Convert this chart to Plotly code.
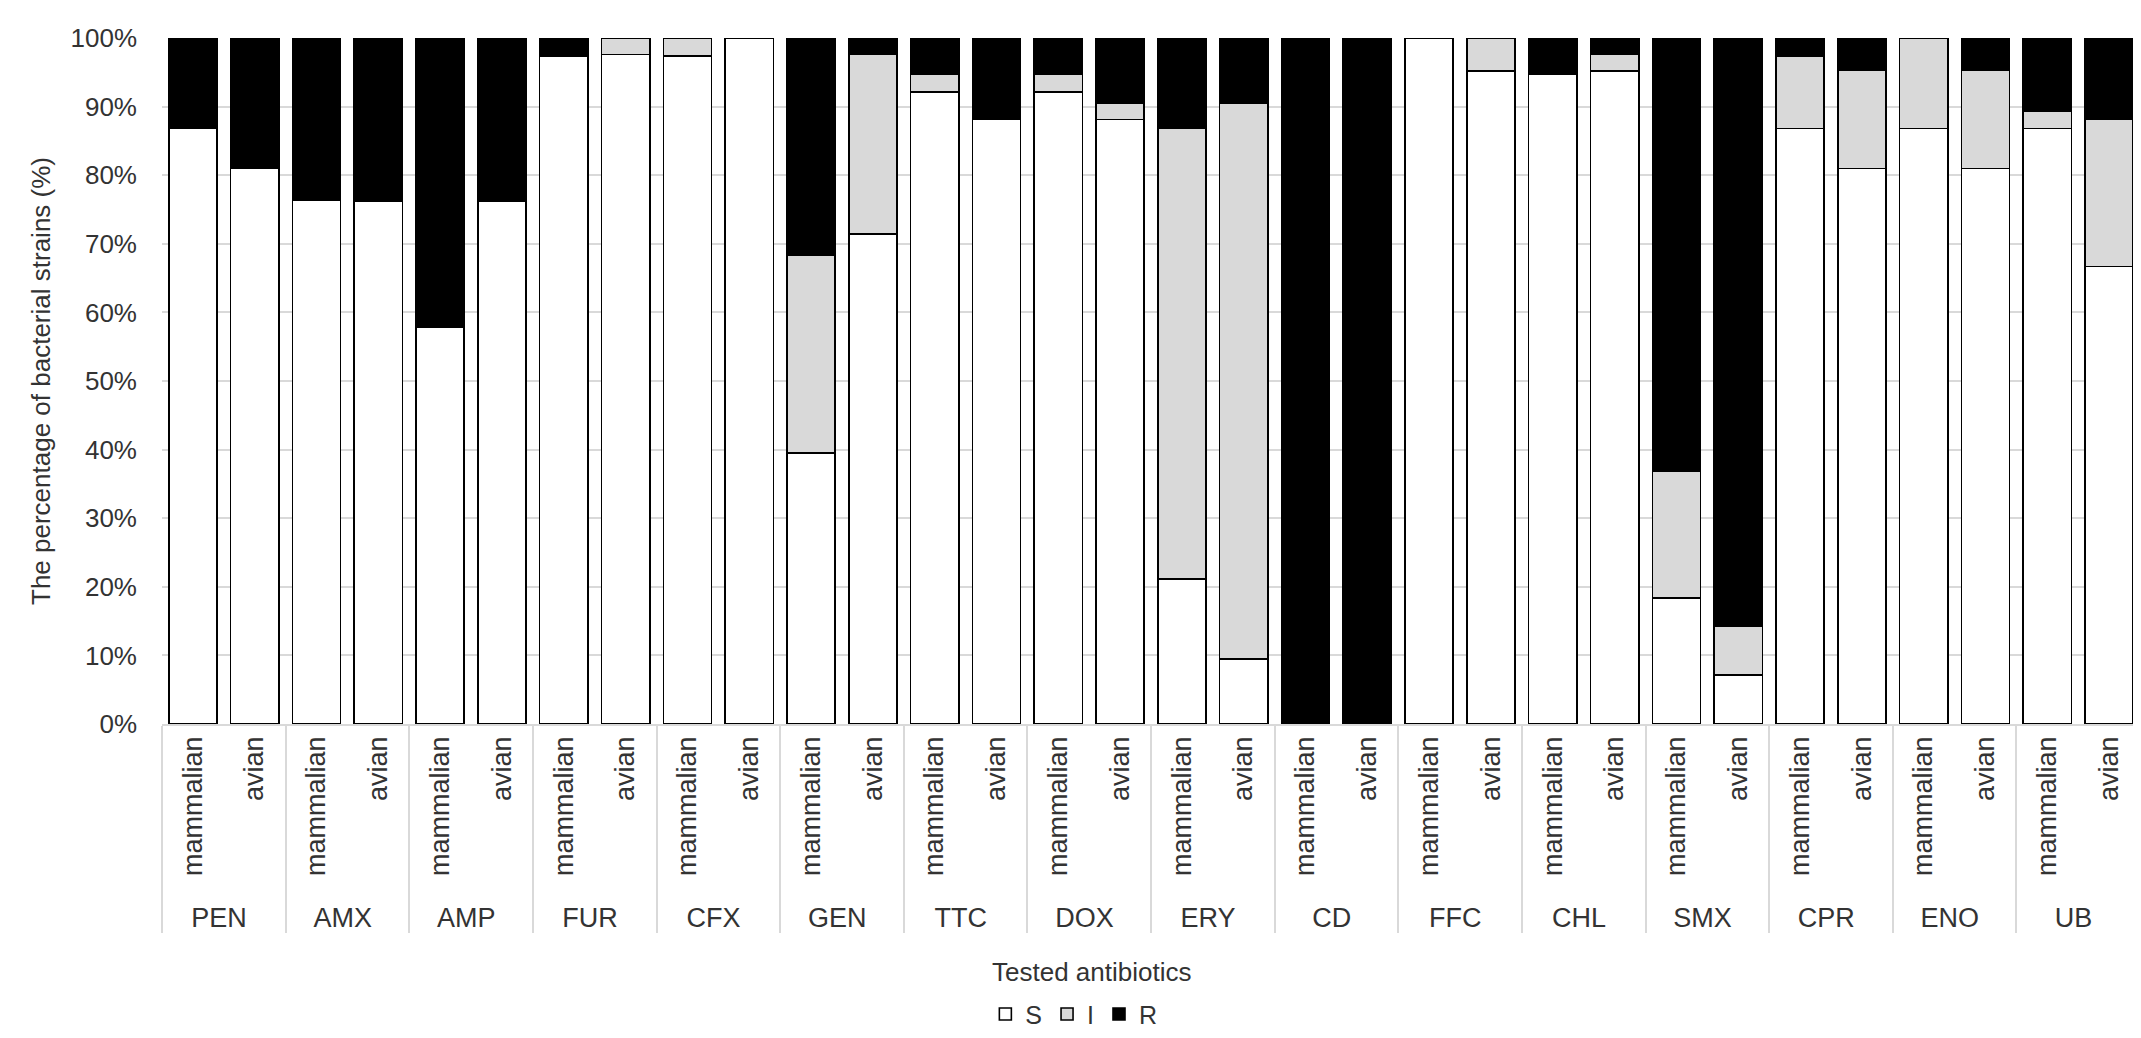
import plotly.graph_objects as go

# antibiotics and host groups
antibiotics = ["PEN", "AMX", "AMP", "FUR", "CFX", "GEN", "TTC", "DOX",
               "ERY", "CD", "FFC", "CHL", "SMX", "CPR", "ENO", "UB"]
hosts = ["mammalian", "avian"]

# percentages (S / I / R)
mammal_s = [86.8, 76.3, 57.9, 97.4, 97.4, 39.5, 92.1, 92.1, 21.1, 0, 100, 94.7, 18.4, 86.8, 86.8, 86.8]
mammal_i = [0, 0, 0, 0, 2.6, 28.9, 2.6, 2.6, 65.8, 0, 0, 0, 18.4, 10.5, 13.2, 2.6]
mammal_r = [13.2, 23.7, 42.1, 2.6, 0, 31.6, 5.3, 5.3, 13.2, 100, 0, 5.3, 63.2, 2.6, 0, 10.5]

avian_s = [81.0, 76.2, 76.2, 97.6, 100, 71.4, 88.1, 88.1, 9.5, 0, 95.2, 95.2, 7.1, 81.0, 81.0, 66.7]
avian_i = [0, 0, 0, 2.4, 0, 26.2, 0, 2.4, 81.0, 0, 4.8, 2.4, 7.1, 14.3, 14.3, 21.4]
avian_r = [19.0, 23.8, 23.8, 0, 0, 2.4, 11.9, 9.5, 9.5, 100, 0, 2.4, 85.7, 4.8, 4.7, 11.9]


def interleave(m, a):
    return [v for pair in zip(m, a) for v in pair]


x_outer = [ab for ab in antibiotics for _ in hosts]
x_inner = [h for _ in antibiotics for h in hosts]

series = [
    ("S", mammal_s, avian_s, "#ffffff"),
    ("I", mammal_i, avian_i, "#d9d9d9"),
    ("R", mammal_r, avian_r, "#000000"),
]

text_color = "#333333"

fig = go.Figure()
for name, m_vals, a_vals, color in series:
    fig.add_trace(go.Bar(
        x=[x_outer, x_inner],
        y=interleave(m_vals, a_vals),
        name=name,
        marker=dict(color=color, line=dict(color="#000000", width=1.6)),
    ))

fig.update_layout(
    barmode="stack",
    bargap=0.22,
    width=2141,
    height=1038,
    margin=dict(l=154, r=9, t=30, b=316),
    plot_bgcolor="white",
    paper_bgcolor="white",
    font=dict(family="Liberation Sans, Arial, sans-serif", size=26, color=text_color),
    showlegend=True,
    legend=dict(
        orientation="h",
        x=0.461, xanchor="center",
        y=-0.423, yanchor="middle",
        traceorder="normal",
        itemwidth=30,
        font=dict(size=25, color=text_color),
    ),
    annotations=[dict(
        text="Tested antibiotics",
        xref="paper", yref="paper",
        x=0.47, y=-0.361,
        xanchor="center", yanchor="middle",
        showarrow=False,
        font=dict(size=26, color=text_color),
    )],
)

fig.update_xaxes(
    type="multicategory",
    tickangle=-90,
    tickfont=dict(size=27, color=text_color),
    showdividers=True,
    dividercolor="#d9d9d9",
    dividerwidth=1.5,
    showline=True,
    linecolor="#d9d9d9",
    linewidth=1.5,
    ticks="",
    showgrid=False,
    automargin=False,
)

fig.update_yaxes(
    range=[0, 100],
    dtick=10,
    ticksuffix="%",
    tickfont=dict(size=26, color=text_color),
    showgrid=True,
    gridcolor="#d9d9d9",
    gridwidth=1.5,
    zeroline=False,
    showline=False,
    ticks="",
    ticklabelstandoff=24,
    automargin=False,
    title=dict(text="The percentage of bacterial strains (%)", standoff=12,
               font=dict(size=26, color=text_color)),
)

fig.write_html("out.html")
